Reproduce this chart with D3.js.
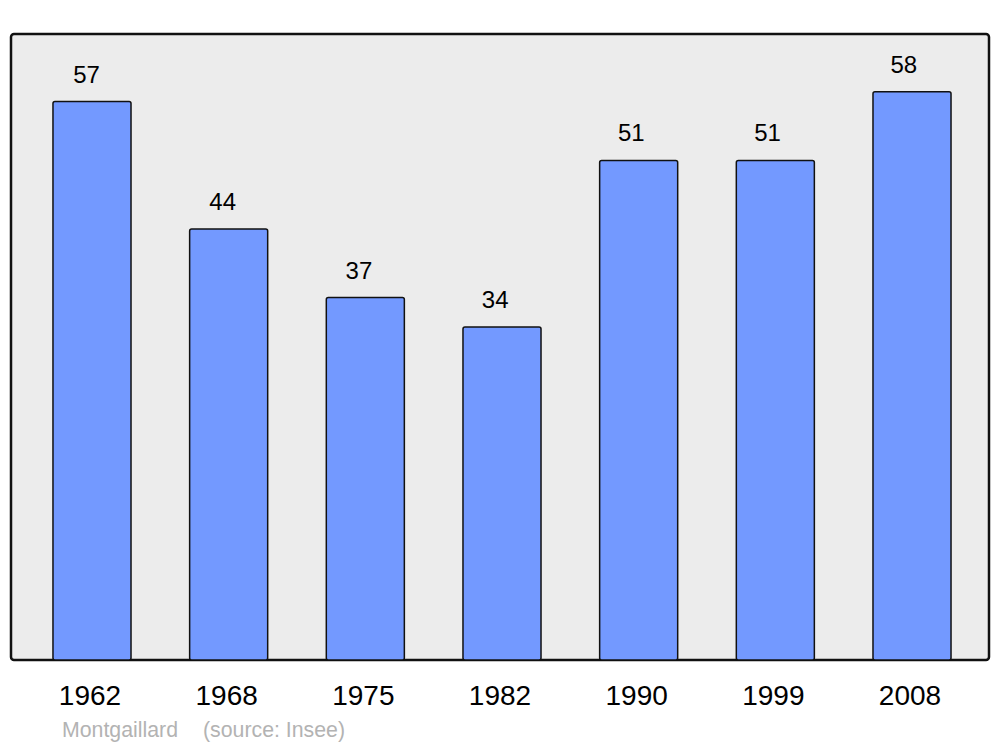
<!DOCTYPE html>
<html>
<head>
<meta charset="utf-8">
<script src="https://cdn.jsdelivr.net/npm/d3@7"></script>
<style>
  body { margin: 0; background: #fff; }
  text { font-family: "Liberation Sans", Arial, sans-serif; }
</style>
</head>
<body>
<svg id="chart"></svg>
<script>
const years = ['1962', '1968', '1975', '1982', '1990', '1999', '2008'];
const population = [57, 44, 37, 34, 51, 51, 58];
const commune = 'Montgaillard';
const source = '(source: Insee)';

const width = 1000, height = 747;
const panel = { left: 11, right: 989, top: 34, bottom: 660 };

const svg = d3.select('#chart')
    .attr('width', width)
    .attr('height', height);

const data = years.map((y, i) => ({ year: y, value: population[i] }));

const x = d3.scaleBand()
    .domain(years)
    .range([panel.left, panel.right])
    .paddingInner(0.429)
    .paddingOuter(0.2925)
    .align(0.525);

const y = d3.scaleLinear()
    .domain([0, 63.9])
    .range([panel.bottom, panel.top]);

// background panel
svg.append('rect')
    .attr('x', panel.left)
    .attr('y', panel.top)
    .attr('width', panel.right - panel.left)
    .attr('height', panel.bottom - panel.top)
    .attr('rx', 3)
    .attr('fill', '#ececec')
    .attr('stroke', '#111')
    .attr('stroke-width', 2.5);

// bars
svg.append('g')
    .selectAll('rect')
    .data(data)
    .join('rect')
        .attr('x', d => x(d.year))
        .attr('y', d => y(d.value))
        .attr('width', x.bandwidth())
        .attr('height', d => y(0) - y(d.value))
        .attr('rx', 2)
        .attr('fill', '#7399ff')
        .attr('stroke', '#111')
        .attr('stroke-width', 1.5);

// value labels (drift slightly left of the bar centres, as in the original)
svg.append('g')
    .selectAll('text')
    .data(data)
    .join('text')
        .attr('x', (d, i) => x(d.year) + x.bandwidth() / 2 - 5.5 - i * 0.45)
        .attr('y', d => y(d.value) - 19)
        .attr('text-anchor', 'middle')
        .attr('font-size', 24)
        .attr('fill', '#000')
        .text(d => d.value);

// year axis labels
const xAxis = d3.axisBottom(x).tickSize(0).tickPadding(0);
const xAxisG = svg.append('g')
    .attr('transform', `translate(-2, ${panel.bottom})`)
    .call(xAxis);
xAxisG.select('.domain').remove();
xAxisG.selectAll('text')
    .attr('dy', null)
    .attr('y', 45)
    .attr('font-size', 28)
    .attr('font-family', '"Liberation Sans", Arial, sans-serif')
    .attr('fill', '#000');

// caption
svg.append('text')
    .attr('x', 62)
    .attr('y', 737)
    .attr('font-size', 21.3)
    .attr('fill', '#b3b3b3')
    .text(commune);
svg.append('text')
    .attr('x', 203)
    .attr('y', 737)
    .attr('font-size', 21.3)
    .attr('fill', '#b3b3b3')
    .text(source);
</script>
</body>
</html>
